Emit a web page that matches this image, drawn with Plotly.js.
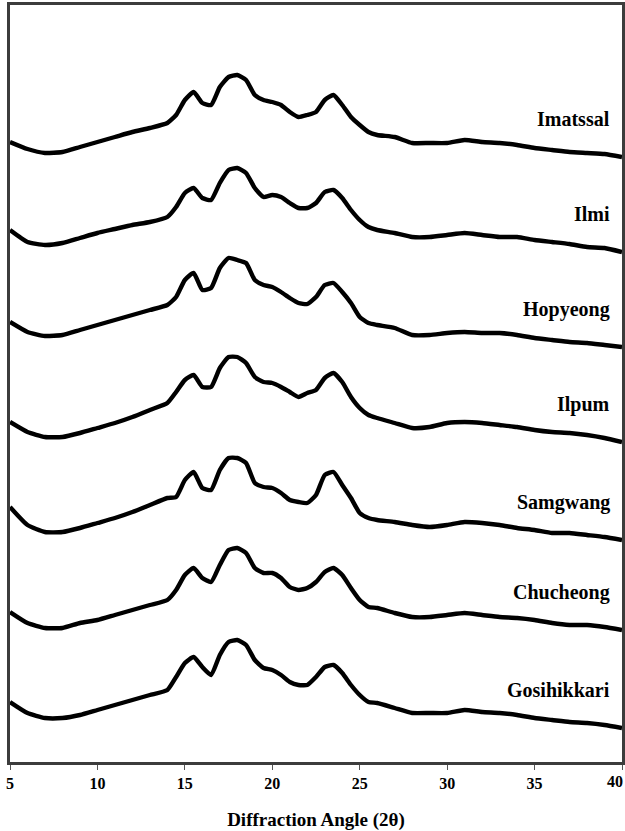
<!DOCTYPE html>
<html>
<head>
<meta charset="utf-8">
<script src="https://cdn.plot.ly/plotly-3.0.1.min.js"></script>
<style>html,body{margin:0;padding:0;background:#fff;}#chart{width:625px;height:831px;}</style>
</head>
<body>
<div id="chart"></div>
<script>
// Diffraction angle (2θ) sample points
var angle = [5,6,7,8,9,10,11,12,13,14,14.5,15,15.5,16,16.5,17,17.5,18,18.5,19,19.5,20,20.5,21,21.5,22,22.5,23,23.5,24,24.5,25,25.5,26,27,28,29,30,31,32,33,34,35,36,37,38,39,40];

// Sample names (top to bottom)
var samples = ["Imatssal","Ilmi","Hopyeong","Ilpum","Samgwang","Chucheong","Gosihikkari"];

// Tick values and labels (the last label, at the right edge, is drawn as an annotation)
var tickValues = [5,10,15,20,25,30,35,40];
var tickLabels = ['5','10','15','20','25','30','35','40'];

// Offset intensities (a.u.)
var imatssal = [620,613,609,610,615,620,625,630,634,639,647,662,670,659,657,675,685,687,682,667,662,660,657,650,645,647,650,662,667,657,645,637,630,627,625,619,619,619,622,620,619,617,614,612,610,609,608,605];
var ilmi = [532,520,517,519,524,529,533,537,540,545,555,569,574,564,562,579,592,594,589,574,565,567,565,559,554,554,559,570,572,564,552,542,535,532,529,525,525,527,529,527,525,525,522,520,518,515,514,510];
var hopyeong = [440,430,426,427,432,437,442,447,452,457,465,482,489,472,474,494,504,502,499,482,477,475,470,464,459,458,465,477,479,470,459,445,439,437,434,427,427,429,430,429,429,427,424,422,420,419,417,415];
var ilpum = [340,330,325,325,329,334,339,345,352,359,370,382,387,375,375,394,405,405,399,385,380,379,375,370,365,369,372,384,389,380,365,354,347,344,339,334,335,339,340,339,337,335,332,330,329,327,324,320];
var samgwang = [255,237,230,230,234,239,244,250,257,264,265,282,290,274,272,292,304,304,299,279,275,274,269,262,260,259,267,287,290,277,264,249,244,242,240,237,235,237,240,239,237,234,232,229,229,227,225,222];
var chucheong = [150,139,134,134,139,142,147,152,157,162,172,187,194,184,180,197,212,214,209,194,189,189,184,175,172,174,180,190,194,187,174,162,155,154,149,145,145,147,149,147,145,144,142,139,137,137,135,132];
var gosihikkari = [60,49,44,44,47,52,57,62,67,72,85,99,105,95,87,107,120,122,117,102,94,92,87,80,77,77,85,95,97,89,77,67,60,59,54,49,49,49,52,50,49,47,44,42,40,39,37,34];

var series = [imatssal, ilmi, hopyeong, ilpum, samgwang, chucheong, gosihikkari];

var serif = 'Liberation Serif, Times New Roman, serif';

var traces = series.map(function(vals, i){
  return {
    x: angle, y: vals, type: 'scatter', mode: 'lines', name: samples[i],
    line: {color: '#000000', width: 4.4, shape: 'spline', smoothing: 0.5}, hoverinfo: 'skip'
  };
});

var annotations = series.map(function(vals, i){
  return {
    x: 39.45, y: vals[vals.length-1] + 38, xref: 'x', yref: 'y',
    text: '<b>' + samples[i] + '</b>', showarrow: false,
    xanchor: 'right', yanchor: 'middle',
    font: {family: serif, size: 20, color: '#000000'}
  };
});

var lastIdx = tickValues.length - 1;
annotations.push({
  x: tickValues[lastIdx], y: 0, xref: 'x', yref: 'paper',
  text: '<b>' + tickLabels[lastIdx] + '</b>', showarrow: false,
  xanchor: 'right', yanchor: 'middle', xshift: 2, yshift: -19, borderpad: 0,
  font: {family: serif, size: 16, color: '#000000'}
});
var axisText = tickLabels.slice(0, lastIdx).concat(['']);

var layout = {
  width: 625, height: 831,
  margin: {l: 10, r: 3, t: 5, b: 69},
  paper_bgcolor: '#ffffff', plot_bgcolor: '#ffffff',
  showlegend: false,
  xaxis: {
    range: [5, 40], tickvals: tickValues, ticktext: axisText,
    ticks: 'outside', ticklen: 5, tickwidth: 1, tickcolor: '#555555',
    showgrid: false, zeroline: false,
    showline: true, mirror: true, linecolor: '#3c3c3c', linewidth: 3,
    tickfont: {family: serif, size: 16, color: '#000000', weight: 'bold'},
    title: {text: '<b>Diffraction Angle (2θ)</b>', standoff: 22,
            font: {family: serif, size: 19, color: '#000000'}},
    automargin: false
  },
  yaxis: {
    range: [0, 757], showticklabels: false, ticks: '', showgrid: false, zeroline: false,
    showline: true, mirror: true, linecolor: '#3c3c3c', linewidth: 3
  },
  annotations: annotations
};

Plotly.newPlot('chart', traces, layout, {displayModeBar: false, staticPlot: true});
</script>
</body>
</html>
